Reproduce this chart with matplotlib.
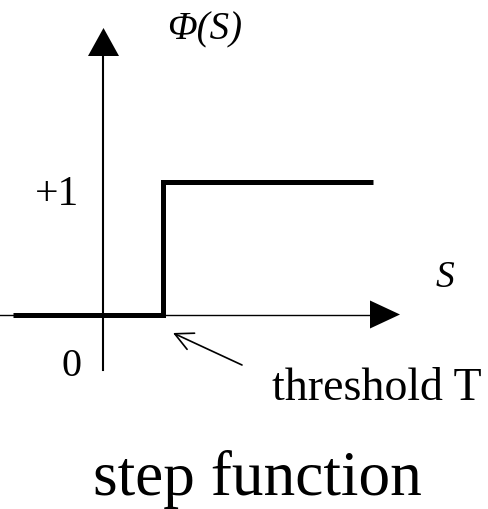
import matplotlib.pyplot as plt

# step function values (S, Phi)
s_vals = [-1.5, 1.0, 1.0, 4.5]
phi_vals = [0, 0, 1, 1]
threshold = 1.0

# axis labels / texts
x_label = "S"
y_label = "Φ(S)"
one_label = "+1"
zero_label = "0"
thresh_label = "threshold T"
title = "step function"

W, H = 489, 509
fig = plt.figure(figsize=(W / 100, H / 100), dpi=100)
ax = fig.add_axes([0, 0, 1, 1])

# pixel layout: origin at (103, 314.5), 60 px per S unit, 132.5 px per Phi unit
x0, y0, sx, sy = 103, 314.5, 60.0, 132.5


def px(x, y):
    # pixel (from top-left) -> data
    return (x - x0) / sx, (y0 - y) / sy


ax.set_xlim(px(0, 0)[0], px(W, 0)[0])
ax.set_ylim(px(0, H)[1], px(0, 0)[1])
ax.axis("off")

# horizontal axis with arrow head
xa, ya = px(0, 314.5)
xb, _ = px(371, 314.5)
ax.plot([xa, xb], [ya, ya], color="k", lw=1.0, zorder=1)
tri = [px(370, 300.5), px(400, 314.5), px(370, 328.5)]
ax.fill([p[0] for p in tri], [p[1] for p in tri], color="k", lw=0)

# vertical axis with arrow head
vx, vy1 = px(103, 370)
_, vy2 = px(103, 55)
ax.plot([vx, vx], [vy1, vy2], color="k", lw=1.5, zorder=1)
tri = [px(88, 56), px(103.5, 28), px(119, 56)]
ax.fill([p[0] for p in tri], [p[1] for p in tri], color="k", lw=0)

# the step
ax.plot(s_vals, phi_vals, color="k", lw=3.6, solid_joinstyle="miter",
        solid_capstyle="butt", zorder=3)

serif = "Liberation Serif"
ax.text(*px(205, 30), y_label, fontsize=28, family=serif, style="italic",
        ha="center", va="center")
ax.text(*px(445, 278), x_label, fontsize=27, family=serif, style="italic",
        ha="center", va="center")
ax.text(*px(57, 195), one_label, fontsize=30, family=serif,
        ha="center", va="center")
ax.text(*px(72, 367), zero_label, fontsize=29, family=serif,
        ha="center", va="center")

# threshold annotation
ax.annotate("", xy=(threshold + 10 / sx, px(0, 333)[1]), xytext=px(242, 365),
            arrowprops=dict(arrowstyle="->", lw=1.2, color="k",
                            mutation_scale=32, shrinkA=0, shrinkB=0))
ax.text(*px(272, 400), thresh_label, fontsize=33, family=serif,
        ha="left", va="baseline")

ax.text(*px(93, 495), title, fontsize=45.5, family=serif,
        ha="left", va="baseline")

fig.savefig("out.png", dpi=100)
